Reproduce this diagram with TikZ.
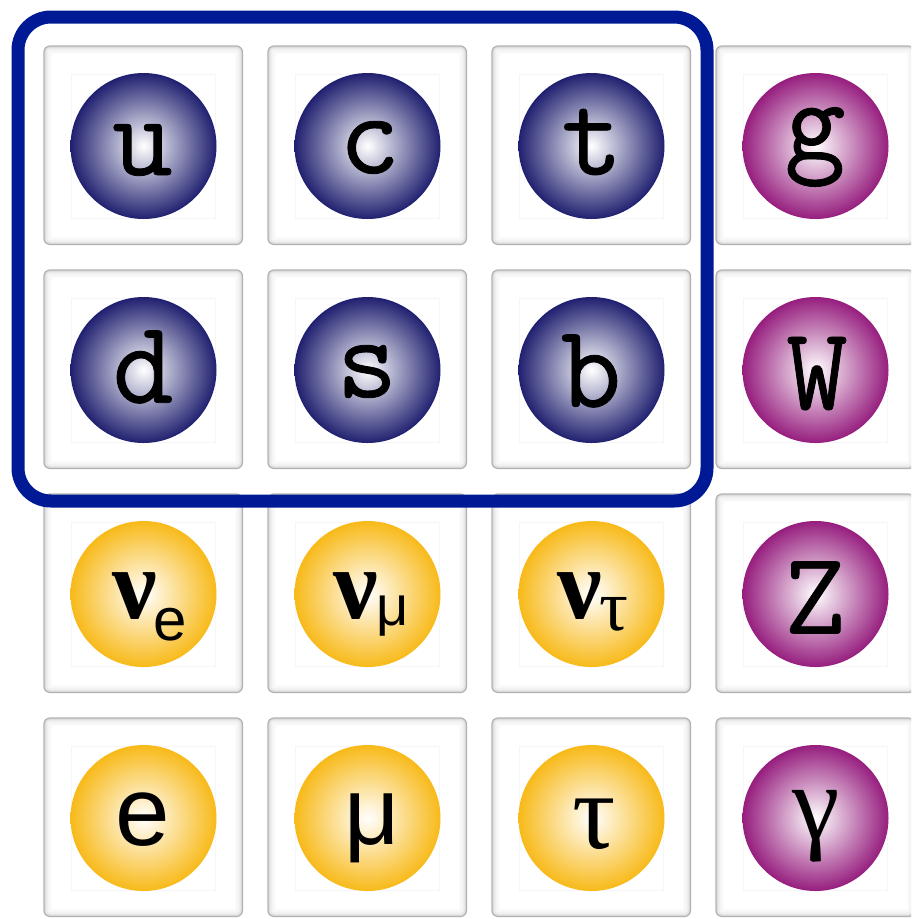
\documentclass[tikz,border=0pt]{standalone}
\usepackage{fontspec}
\newfontfamily\twfont{Latin Modern Mono}[FakeBold=0.7]
\newfontfamily\grserif{Liberation Serif}
\newfontfamily\grsans{Liberation Sans}
\definecolor{qcol}{RGB}{32,32,112}
\definecolor{lcol}{RGB}{248,186,26}
\definecolor{bcol}{RGB}{150,30,126}
\definecolor{framecol}{RGB}{0,26,150}
\pgfdeclareradialshading{qshade}{\pgfpointorigin}{color(0bp)=(white); color(25bp)=(qcol); color(50bp)=(qcol)}
\pgfdeclareradialshading{lshade}{\pgfpointorigin}{color(0bp)=(white); color(25bp)=(lcol); color(50bp)=(lcol)}
\pgfdeclareradialshading{bshade}{\pgfpointorigin}{color(0bp)=(white); color(25bp)=(bcol); color(50bp)=(bcol)}
\tikzset{
  cellbox/.style={rectangle, rounded corners=6pt, minimum width=198.5pt, minimum height=198.5pt,
    inner sep=0pt, fill=white, draw=gray!60, line width=1.2pt,
    path picture={
      \draw[gray!6, line width=14pt, rounded corners=6pt] (path picture bounding box.south west) rectangle (path picture bounding box.north east);
      \draw[gray!13, line width=8pt, rounded corners=6pt] (path picture bounding box.south west) rectangle (path picture bounding box.north east);
      \draw[gray!27, line width=4pt, rounded corners=6pt] (path picture bounding box.south west) rectangle (path picture bounding box.north east);
    }},
  halo/.style={rectangle, minimum size=144pt, inner sep=0pt, draw=gray!7, line width=0.6pt},
  ball/.style={circle, minimum size=146pt, inner sep=0pt, shade},
  quark/.style={ball, shading=qshade},
  lepton/.style={ball, shading=lshade},
  boson/.style={ball, shading=bshade},
  twlab/.style={inner sep=0pt, font=\twfont\bfseries\fontsize{118pt}{118pt}\selectfont},
  grlab/.style={inner sep=0pt},
  frame/.style={draw=framecol, line width=13pt, rounded corners=33pt}
}
\begin{document}
\begin{tikzpicture}[x=1pt,y=-1pt]
\useasboundingbox (0,0) rectangle (911,919);
\clip (0,0) rectangle (911,919);
% cells
\foreach \i in {0,1,2,3}{
  \foreach \j in {0,1,2,3}{
    \node[cellbox] (cell-\i-\j) at ({143.25+224*\i},{145.25+224*\j}) {};
    \node[halo] (halo-\i-\j) at ({143.5+224*\i},{146+224*\j}) {};
  }
}
% spheres
\node[quark] (bu) at (143.5,146) {};
\node[quark] (bc) at (367.5,146) {};
\node[quark] (bt) at (591.5,146) {};
\node[boson] (bg) at (815.5,146) {};
\node[quark] (bd) at (143.5,370) {};
\node[quark] (bs) at (367.5,370) {};
\node[quark] (bb) at (591.5,370) {};
\node[boson] (bW) at (815.5,370) {};
\node[lepton] (bnue) at (143.5,594) {};
\node[lepton] (bnumu) at (367.5,594) {};
\node[lepton] (bnutau) at (591.5,594) {};
\node[boson] (bZ) at (815.5,594) {};
\node[lepton] (be) at (143.5,818) {};
\node[lepton] (bmu) at (367.5,818) {};
\node[lepton] (btau) at (591.5,818) {};
\node[boson] (bgam) at (815.5,818) {};
% labels
\node[twlab] (u) at (142.5,150) {u};
\node[twlab] (c) at (369.5,147.5) {c};
\node[twlab] (t) at (592,142) {t};
\node[twlab] (g) at (815,147) {g};
\node[twlab] (d) at (143,367) {d};
\node[twlab] (s) at (367,371.5) {s};
\node[twlab] (b) at (591,371) {b};
\node[twlab] (W) at (817,373.5) {W};
\node[twlab] (Z) at (815,597.5) {Z};
\node[grlab, anchor=base] (nue) at (150,618) {{\grserif\bfseries\fontsize{100pt}{100pt}\selectfont ν}\kern-4pt\raisebox{-22pt}{\grsans\fontsize{60pt}{60pt}\selectfont e}};
\node[grlab, anchor=base] (numu) at (371,618) {{\grserif\bfseries\fontsize{100pt}{100pt}\selectfont ν}\kern-2pt\raisebox{-7pt}{\grsans\fontsize{56pt}{56pt}\selectfont μ}};
\node[grlab, anchor=base] (nutau) at (593,618) {{\grserif\bfseries\fontsize{100pt}{100pt}\selectfont ν}\kern-2pt\raisebox{-12pt}{\grserif\fontsize{72pt}{72pt}\selectfont τ}};
\node[grlab, font=\grsans\fontsize{98pt}{98pt}\selectfont] (e) at (142.5,819.5) {e};
\node[grlab, font=\grsans\fontsize{96pt}{96pt}\selectfont] (mu) at (372,828) {μ};
\node[grlab, font=\grserif\fontsize{108pt}{108pt}\selectfont] (tau) at (594,824) {τ};
\node[grlab, font=\grserif\fontsize{107pt}{107pt}\selectfont] (gam) at (816.5,826) {γ};
% quark frame
\draw[frame] (18,17) rectangle (707,501);
\end{tikzpicture}
\end{document}
